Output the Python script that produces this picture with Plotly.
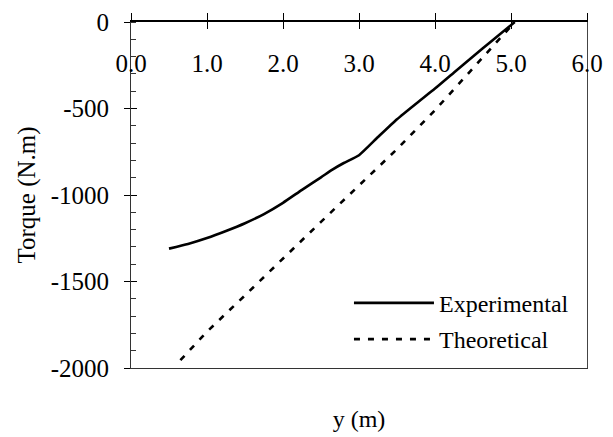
import plotly.graph_objects as go

# Data
exp_x = [0.5, 0.75, 1.0, 1.25, 1.5, 1.75, 2.0, 2.25, 2.5, 2.65, 2.8, 3.0, 3.25, 3.5, 3.75, 4.0, 4.25, 4.5, 4.75, 5.05]
exp_y = [-1310, -1283, -1249, -1208, -1163, -1110, -1045, -970, -898, -853, -815, -770, -665, -562, -472, -385, -292, -200, -108, 0]

theo_x = [0.65, 1.0, 1.5, 2.0, 2.5, 3.0, 3.5, 4.0, 4.5, 5.05]
theo_y = [-1955, -1790, -1580, -1365, -1155, -945, -735, -510, -270, 0]

x_ticks = [0, 1, 2, 3, 4, 5, 6]
x_tick_labels = ["0.0", "1.0", "2.0", "3.0", "4.0", "5.0", "6.0"]
y_ticks = [0, -500, -1000, -1500, -2000]
y_tick_labels = ["0", "-500", "-1000", "-1500", "-2000"]

FONT = "Liberation Serif, Times New Roman, serif"

fig = go.Figure()
fig.add_trace(go.Scatter(x=exp_x, y=exp_y, mode="lines", name="Experimental",
                         line=dict(color="black", width=2.6, shape="spline", smoothing=0.5),
                         legendgroup="a"))
fig.add_trace(go.Scatter(x=theo_x, y=theo_y, mode="lines", name="Theoretical",
                         line=dict(color="black", width=2.6, dash="6px,8px"), legendgroup="b"))

fig.update_layout(
    width=605, height=429,
    margin=dict(l=123, r=26, t=14, b=69, autoexpand=False),
    plot_bgcolor="white", paper_bgcolor="white",
    font=dict(family=FONT, size=24, color="black"),
    showlegend=True,
    legend=dict(x=0.478, y=0.252, xanchor="left", yanchor="top",
                bgcolor="rgba(0,0,0,0)", tracegroupgap=2, itemwidth=80,
                font=dict(family=FONT, size=24, color="black")),
    xaxis=dict(range=[0, 6], side="top", tickvals=x_ticks, ticktext=x_tick_labels,
               ticks="outside", ticklen=7, tickwidth=1, tickcolor="black",
               showline=True, linecolor="black", linewidth=1.5, automargin=False,
               ticklabelposition="inside", ticklabeloverflow="allow", ticklabelstandoff=35,
               showgrid=False, zeroline=False,
               tickfont=dict(family=FONT, size=25, color="black")),
    xaxis2=dict(range=[0, 6], overlaying="x", side="top", tickvals=x_ticks,
                ticks="inside", ticklen=7, tickcolor="black", showticklabels=False,
                showgrid=False, zeroline=False, showline=False, automargin=False),
    xaxis3=dict(range=[0, 6], overlaying="x", side="bottom", showticklabels=False,
                ticks="", showline=True, linecolor="#333", linewidth=1,
                showgrid=False, zeroline=False, automargin=False,
                title=dict(text="y (m)", standoff=42, font=dict(family=FONT, size=24, color="black"))),
    yaxis=dict(range=[-2000, 0], tickvals=y_ticks, ticktext=y_tick_labels,
               ticks="outside", ticklen=6, tickcolor="black",
               showline=True, linecolor="#333", linewidth=1, automargin=False,
               ticklabelstandoff=10,
               minor=dict(dtick=100, ticks="inside", ticklen=5, tickcolor="#333", showgrid=False),
               showgrid=False, zeroline=False,
               tickfont=dict(family=FONT, size=25, color="black"),
               title=dict(text="Torque (N.m)", standoff=7, font=dict(family=FONT, size=25, color="black"))),
    yaxis2=dict(range=[-2000, 0], overlaying="y", side="left", tickvals=y_ticks,
                ticks="inside", ticklen=6, tickcolor="black", showticklabels=False,
                showgrid=False, zeroline=False, showline=False, automargin=False),
    yaxis3=dict(range=[-2000, 0], overlaying="y", side="right", showticklabels=False,
                ticks="", showline=True, linecolor="#444", linewidth=1,
                showgrid=False, zeroline=False, automargin=False),
)

# invisible helper traces to activate the overlay axes
fig.add_trace(go.Scatter(x=[None], y=[None], xaxis="x2", yaxis="y2", showlegend=False, hoverinfo="skip"))
fig.add_trace(go.Scatter(x=[None], y=[None], xaxis="x3", yaxis="y3", showlegend=False, hoverinfo="skip"))

fig.write_html("out.html")
